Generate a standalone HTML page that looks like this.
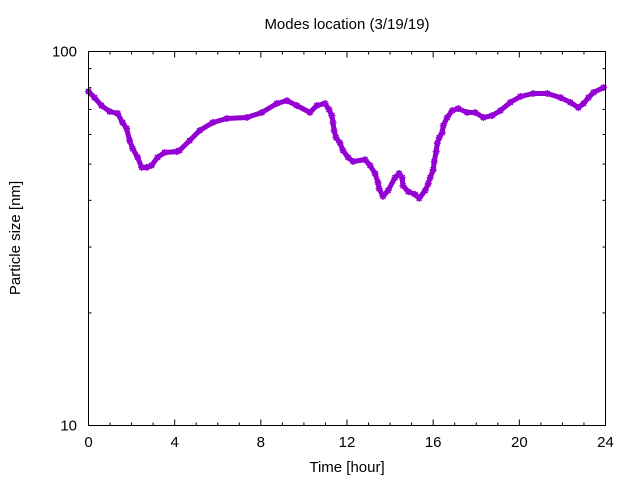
<!DOCTYPE html>
<html><head><meta charset="utf-8"><style>
html,body{margin:0;padding:0;background:#fff}
svg{display:block;font-family:"Liberation Sans","DejaVu Sans",sans-serif}
</style></head><body>
<svg id="chart" width="640" height="480" viewBox="0 0 640 480">
<rect width="640" height="480" fill="#fff"/>
<text x="347" y="29" text-anchor="middle" font-size="15">Modes location (3/19/19)</text>
<text x="347" y="472" text-anchor="middle" font-size="15">Time [hour]</text>
<text transform="translate(20,238) rotate(-90)" text-anchor="middle" font-size="15">Particle size [nm]</text>
<g id="axes"></g>
<g id="series"></g>
<rect x="88.5" y="51.5" width="517" height="374" fill="none" stroke="#000" stroke-width="1"/>
</svg>
<script>
const hours = [0,0.28,0.6,0.98,1.35,1.58,1.77,1.91,2.05,2.28,2.47,2.7,2.93,3.21,3.53,4.09,4.23,4.7,5.16,5.77,6.42,7.35,8.05,8.74,9.21,9.67,10.28,10.6,10.98,11.16,11.3,11.35,11.4,11.49,11.67,11.81,12.05,12.28,12.84,13.07,13.3,13.44,13.49,13.67,13.91,14.23,14.42,14.56,14.6,14.84,15.16,15.35,15.63,15.77,15.86,16.0,16.05,16.14,16.19,16.28,16.42,16.47,16.65,16.88,17.16,17.58,17.95,18.33,18.74,19.12,19.58,20.05,20.65,21.3,21.91,22.37,22.74,22.98,23.21,23.44,23.91];
const sizes = [78.2,75.3,71.7,69.1,68.3,64.6,62.3,57.8,55.0,52.1,49.0,49.0,49.6,52.1,53.7,54.0,54.4,57.8,61.5,64.6,66.2,66.6,68.7,72.6,73.9,71.7,68.7,71.7,72.6,70.0,67.4,64.6,61.5,58.9,57.0,54.4,52.1,50.8,51.4,49.6,47.2,44.6,43.0,41.0,42.5,46.0,47.2,46.0,43.8,42.2,41.5,40.5,42.5,44.3,46.0,48.3,50.8,54.0,56.8,58.9,60.7,63.4,66.6,69.5,70.4,68.7,68.7,66.6,67.4,69.5,73.1,75.8,77.2,77.2,75.3,73.1,70.8,72.6,75.3,77.7,80.1];
const xTicks = [0,4,8,12,16,20,24];
const yTicks = [10,100];
const yMinor = [20,30,40,50,60,70,80,90];

const X0=88.5, X1=605.5, Y0=425.5, Y1=51.5;
const xS = h => X0 + (h/24)*(X1-X0);
const yS = v => Y0 - (Math.log10(v)-1)*(Y0-Y1);
const NS="http://www.w3.org/2000/svg";
function mk(tag, attrs){const e=document.createElementNS(NS,tag);for(const k in attrs)e.setAttribute(k,attrs[k]);return e;}
const axes=document.getElementById('axes');
for(let h=0;h<=24;h++){
  const major = h%4===0; const L = major?6:3; const x=xS(h);
  const t1=mk('line',{x1:x,x2:x,y1:Y0,y2:Y0-L,stroke:'#000'});
  
  
  axes.appendChild(t1);
  const t2=mk('line',{x1:x,x2:x,y1:Y1,y2:Y1+L,stroke:'#000'});
  
  
  axes.appendChild(t2);
}
xTicks.forEach(h=>{
  const t=mk('text',{x:xS(h),y:447,'text-anchor':'middle','font-size':15});
  t.textContent=h;
  
  
  axes.appendChild(t);
});
yTicks.forEach(v=>{
  const y=yS(v);
  const a=mk('line',{x1:X0,x2:X0+6,y1:y,y2:y,stroke:'#000'});
  
  
  axes.appendChild(a);
  const b=mk('line',{x1:X1,x2:X1-6,y1:y,y2:y,stroke:'#000'});
  
  
  axes.appendChild(b);
  const t=mk('text',{x:77,y:y+5,'text-anchor':'end','font-size':15});
  t.textContent=v;
  
  
  axes.appendChild(t);
});
yMinor.forEach(v=>{
  const y=yS(v);
  const a=mk('line',{x1:X0,x2:X0+3,y1:y,y2:y,stroke:'#000'});
  
  
  axes.appendChild(a);
  const b=mk('line',{x1:X1,x2:X1-3,y1:y,y2:y,stroke:'#000'});
  
  
  axes.appendChild(b);
});
const series=document.getElementById('series');
const pts=hours.map((h,i)=>xS(h).toFixed(1)+','+yS(sizes[i]).toFixed(1)).join(' ');
const line=mk('polyline',{points:pts,fill:'none',stroke:'#9400d3','stroke-width':5,'stroke-linejoin':'round','stroke-linecap':'round'});


series.appendChild(line);
hours.forEach((h,i)=>{
  const x=xS(h), y=yS(sizes[i]);
  const p=mk('path',{d:`M${x-3.5},${y}h7M${x},${y-3.5}v7M${x-2.5},${y-2.5}l5,5M${x-2.5},${y+2.5}l5,-5`,stroke:'#9400d3','stroke-width':1.5,fill:'none'});
  
  
  series.appendChild(p);
});
</script>
</body></html>
